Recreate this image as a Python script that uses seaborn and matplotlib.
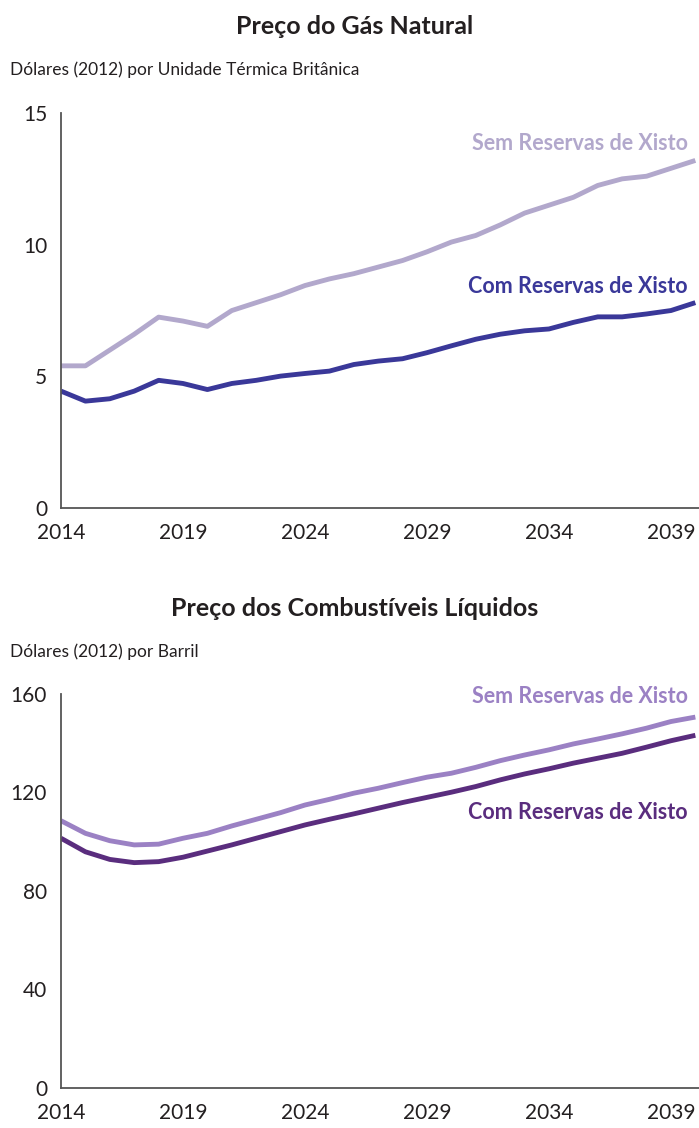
import matplotlib
matplotlib.use("Agg")
import matplotlib.pyplot as plt
import pandas as pd
import seaborn as sns

years = list(range(2014, 2041))

gas_sem = [5.4, 5.4, 6.0, 6.6, 7.25, 7.1, 6.9, 7.5, 7.8, 8.1, 8.45, 8.7, 8.9,
           9.15, 9.4, 9.73, 10.1, 10.35, 10.75, 11.2, 11.5, 11.8, 12.25, 12.5,
           12.6, 12.9, 13.2]
gas_com = [4.44, 4.06, 4.15, 4.44, 4.85, 4.73, 4.5, 4.73, 4.85, 5.01, 5.11,
           5.2, 5.45, 5.58, 5.67, 5.9, 6.16, 6.41, 6.6, 6.73, 6.8, 7.05, 7.26,
           7.26, 7.37, 7.5, 7.8]

liq_sem = [108.5, 103.4, 100.4, 98.7, 99.0, 101.4, 103.4, 106.4, 109.1, 111.8,
           114.9, 117.2, 119.7, 121.7, 124.0, 126.2, 127.8, 130.2, 132.9, 135.2,
           137.3, 139.7, 141.7, 143.8, 146.1, 148.8, 150.6]
liq_com = [101.4, 95.9, 92.8, 91.5, 91.9, 93.7, 96.2, 98.7, 101.4, 104.1,
           106.8, 109.1, 111.3, 113.6, 115.9, 118.0, 120.1, 122.4, 125.1, 127.5,
           129.6, 131.9, 133.9, 135.9, 138.4, 141.0, 143.2]

SEM = "Sem Reservas de Xisto"
COM = "Com Reservas de Xisto"

sns.set_style("white")
plt.rcParams["font.family"] = ["Lato", "DejaVu Sans"]

TEXT = "#231f20"
AXIS = "#555555"


def long_df(sem, com):
    return pd.DataFrame({
        "ano": years * 2,
        "valor": sem + com,
        "serie": [SEM] * len(years) + [COM] * len(years),
    })


def draw_panel(ax, df, palette, ymax, yticks, sem_y, com_y):
    sns.lineplot(data=df, x="ano", y="valor", hue="serie", palette=palette,
                 linewidth=3.5, legend=False, ax=ax, solid_capstyle="butt")
    ax.set_xlim(2014, 2040.15)
    ax.set_ylim(0, ymax)
    ax.set_xticks([2014, 2019, 2024, 2029, 2034, 2039])
    ax.set_yticks(yticks)
    ax.set_xlabel("")
    ax.set_ylabel("")
    for side in ["top", "right"]:
        ax.spines[side].set_visible(False)
    for side in ["left", "bottom"]:
        ax.spines[side].set_color(AXIS)
        ax.spines[side].set_linewidth(1.3)
    ax.tick_params(direction="in", length=7, width=1.3, color=AXIS,
                   labelsize=15, labelcolor=TEXT)
    ax.tick_params(axis="y", pad=10)
    ax.tick_params(axis="x", pad=11)
    ax.text(2039.7, sem_y, SEM, color=palette[SEM], fontsize=15.5,
            fontweight="bold", ha="right", va="center")
    ax.text(2039.7, com_y, COM, color=palette[COM], fontsize=15.5,
            fontweight="bold", ha="right", va="center")


fig = plt.figure(figsize=(6.99, 11.28), dpi=100)
ax1 = fig.add_axes([0.0873, 0.5496, 0.9127, 0.3502])
ax2 = fig.add_axes([0.0873, 0.0355, 0.9127, 0.3493])

draw_panel(ax1, long_df(gas_sem, gas_com),
           {SEM: "#b2a8cc", COM: "#3a3899"}, 15, [0, 5, 10, 15], 13.85, 8.4)
draw_panel(ax2, long_df(liq_sem, liq_com),
           {SEM: "#9b81c4", COM: "#5a2d7e"}, 160, [0, 40, 80, 120, 160],
           159.0, 111.7)

fig.text(355 / 699, 1 - 27 / 1128, "Preço do Gás Natural", ha="center",
         va="center", fontsize=18, fontweight="bold", color=TEXT)
fig.text(10 / 699, 1 - 70 / 1128, "Dólares (2012) por Unidade Térmica Britânica",
         ha="left", va="center", fontsize=12.5, color=TEXT)
fig.text(355 / 699, 1 - 608 / 1128, "Preço dos Combustíveis Líquidos",
         ha="center", va="center", fontsize=18, fontweight="bold", color=TEXT)
fig.text(10 / 699, 1 - 652 / 1128, "Dólares (2012) por Barril",
         ha="left", va="center", fontsize=12.5, color=TEXT)

fig.savefig("out.png", dpi=100)
